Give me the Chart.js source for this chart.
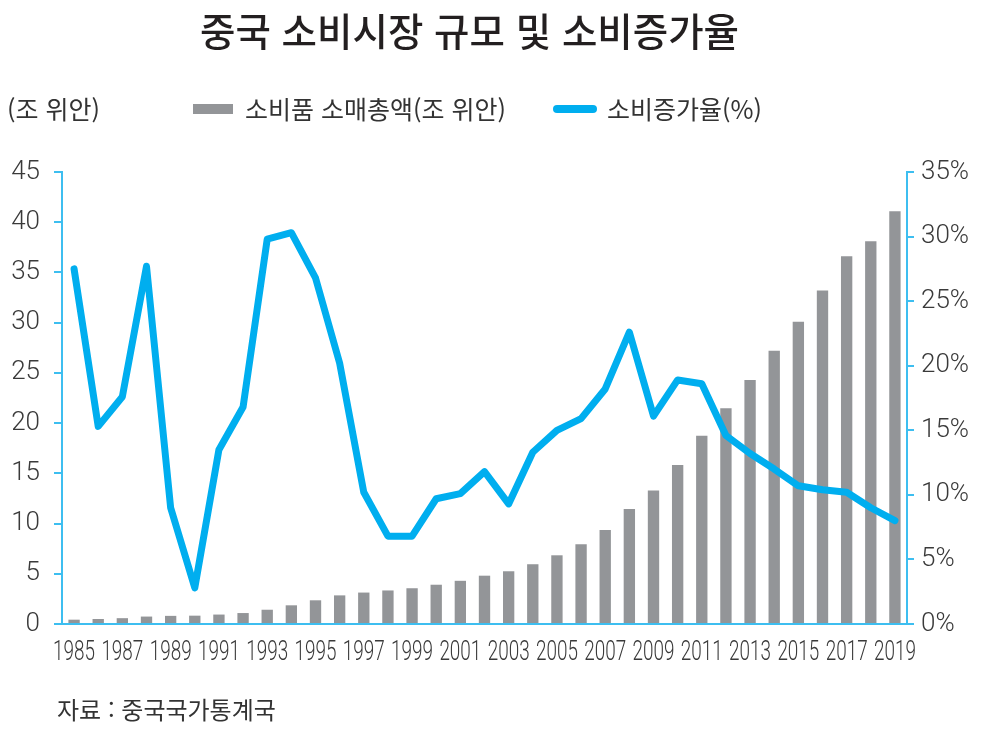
<!DOCTYPE html>
<html lang="ko">
<head>
<meta charset="utf-8">
<script src="https://cdn.jsdelivr.net/npm/chart.js@4.4.0/dist/chart.umd.min.js"></script>
<style>
  html, body { margin: 0; padding: 0; background: #fff; }
  #wrap { position: relative; width: 994px; height: 738px; overflow: hidden;
          font-family: "Noto Sans CJK KR", "Noto Sans", sans-serif; color: #333; }
  #chart { position: absolute; left: 0; top: 0; }
  .txt { position: absolute; white-space: nowrap; line-height: 1; }
  #title { left: 200px; top: 10px; font-size: 38.5px; font-weight: 500; color: #231f20; }
  #unit { left: 7px; top: 96px; font-size: 25px; }
  #source { left: 57px; top: 697px; font-size: 24px; }
  .swatch { position: absolute; }
</style>
</head>
<body>
<div id="wrap">
  <canvas id="chart" width="994" height="738"></canvas>
  <div id="title" class="txt">중국 소비시장 규모 및 소비증가율</div>
  <div id="unit" class="txt">(조 위안)</div>
  <div id="legend"></div>
  <div id="source" class="txt">자료 : 중국국가통계국</div>
</div>
<script>
// years on the category axis
const years = [
  "1985", "1986", "1987", "1988", "1989", "1990", "1991", "1992", "1993", "1994",
  "1995", "1996", "1997", "1998", "1999", "2000", "2001", "2002", "2003", "2004",
  "2005", "2006", "2007", "2008", "2009", "2010", "2011", "2012", "2013", "2014",
  "2015", "2016", "2017", "2018", "2019"
];
// every other year is labelled
const xTickLabels = [
  "1985", "1987", "1989", "1991", "1993", "1995", "1997", "1999", "2001",
  "2003", "2005", "2007", "2009", "2011", "2013", "2015", "2017", "2019"
];

// 소비품 소매총액 (조 위안)
const retailSales = [
  0.43, 0.50, 0.58, 0.74, 0.81, 0.83, 0.94, 1.09, 1.42, 1.86,
  2.36, 2.85, 3.13, 3.34, 3.56, 3.91, 4.30, 4.81, 5.25, 5.95,
  6.84, 7.94, 9.36, 11.45, 13.30, 15.83, 18.73, 21.48, 24.30, 27.20,
  30.10, 33.20, 36.60, 38.10, 41.10
];
// 소비증가율 (%)
const growthRate = [
  27.5, 15.3, 17.6, 27.7, 9.0, 2.8, 13.5, 16.8, 29.8, 30.3,
  26.8, 20.2, 10.2, 6.8, 6.8, 9.7, 10.1, 11.8, 9.3, 13.3,
  15.0, 15.9, 18.2, 22.6, 16.1, 18.9, 18.6, 14.6, 13.2, 12.0,
  10.7, 10.4, 10.2, 9.0, 8.0
];

const leftTicks = { min: 0, max: 45, step: 5 };
const rightTicks = { min: 0, max: 35, step: 5 };

const BLUE = "#00aeef";
const AXIS = "#3dbef0";
const GREY = "#939598";
const TEXT = "#3a3a3a";

// condensed year labels under the axis
const yearLabels = {
  id: "yearLabels",
  afterDraw(chart) {
    const ctx = chart.ctx;
    const xs = chart.scales.x;
    ctx.save();
    ctx.fillStyle = TEXT;
    ctx.font = "300 27px Roboto, 'Liberation Sans', sans-serif";
    ctx.textAlign = "center";
    ctx.textBaseline = "top";
    xTickLabels.forEach(lbl => {
      const x = xs.getPixelForValue(years.indexOf(lbl));
      ctx.save();
      ctx.translate(x, 640);
      ctx.scale(0.7, 1);
      ctx.fillText(lbl, 0, 0);
      ctx.restore();
    });
    ctx.restore();
  }
};

const chart = new Chart(document.getElementById("chart"), {
  type: "bar",
  data: {
    labels: years,
    datasets: [
      {
        type: "line",
        label: "소비증가율(%)",
        data: growthRate,
        yAxisID: "y1",
        borderColor: BLUE,
        backgroundColor: BLUE,
        borderWidth: 7,
        pointRadius: 0,
        tension: 0,
        borderCapStyle: "round",
        borderJoinStyle: "round",
        order: 0
      },
      {
        label: "소비품 소매총액(조 위안)",
        data: retailSales,
        yAxisID: "y",
        backgroundColor: GREY,
        borderWidth: 0,
        categoryPercentage: 1,
        barPercentage: 0.47,
        order: 1
      }
    ]
  },
  options: {
    responsive: false,
    animation: false,
    devicePixelRatio: 1,
    layout: { padding: { top: 172, left: 0, right: 0, bottom: 0 } },
    plugins: { legend: { display: false }, title: { display: false }, tooltip: { enabled: false } },
    scales: {
      x: {
        offset: true,
        grid: { display: false },
        border: { display: true, color: AXIS, width: 2 },
        ticks: { display: false },
        afterFit(s) { s.height = 114; }
      },
      y: {
        position: "left",
        min: leftTicks.min,
        max: leftTicks.max,
        grid: { drawOnChartArea: false, drawTicks: true, tickLength: 8, color: AXIS, lineWidth: 2 },
        border: { display: true, color: AXIS, width: 2 },
        ticks: {
          stepSize: leftTicks.step,
          padding: 14,
          color: TEXT,
          font: { family: "Roboto, 'Liberation Sans', sans-serif", size: 26, weight: 300 }
        },
        afterFit(s) { s.width = 62; }
      },
      y1: {
        position: "right",
        min: rightTicks.min,
        max: rightTicks.max,
        grid: { drawOnChartArea: false, drawTicks: true, tickLength: 7, color: AXIS, lineWidth: 2 },
        border: { display: true, color: AXIS, width: 2 },
        ticks: {
          stepSize: rightTicks.step,
          padding: 7,
          color: TEXT,
          font: { family: "Roboto, 'Liberation Sans', sans-serif", size: 26, weight: 300 },
          callback: v => v + "%"
        },
        afterFit(s) { s.width = 87; }
      }
    }
  },
  plugins: [yearLabels]
});

// legend built from the datasets
const legendPos = [
  { sx: 193, tx: 245 },  // bars
  { sx: 553, tx: 607 }   // line
];
const legendEl = document.getElementById("legend");
[chart.data.datasets[1], chart.data.datasets[0]].forEach((ds, i) => {
  const sw = document.createElement("div");
  sw.className = "swatch";
  if (ds.type === "line") {
    Object.assign(sw.style, { left: legendPos[i].sx + "px", top: "105px", width: "44px", height: "8px",
      borderRadius: "4px", background: ds.borderColor });
  } else {
    Object.assign(sw.style, { left: legendPos[i].sx + "px", top: "104px", width: "40px", height: "10px",
      background: ds.backgroundColor });
  }
  const t = document.createElement("div");
  t.className = "txt";
  t.textContent = ds.label;
  Object.assign(t.style, { left: legendPos[i].tx + "px", top: "96px", fontSize: "25px" });
  legendEl.appendChild(sw);
  legendEl.appendChild(t);
});
</script>
</body>
</html>
